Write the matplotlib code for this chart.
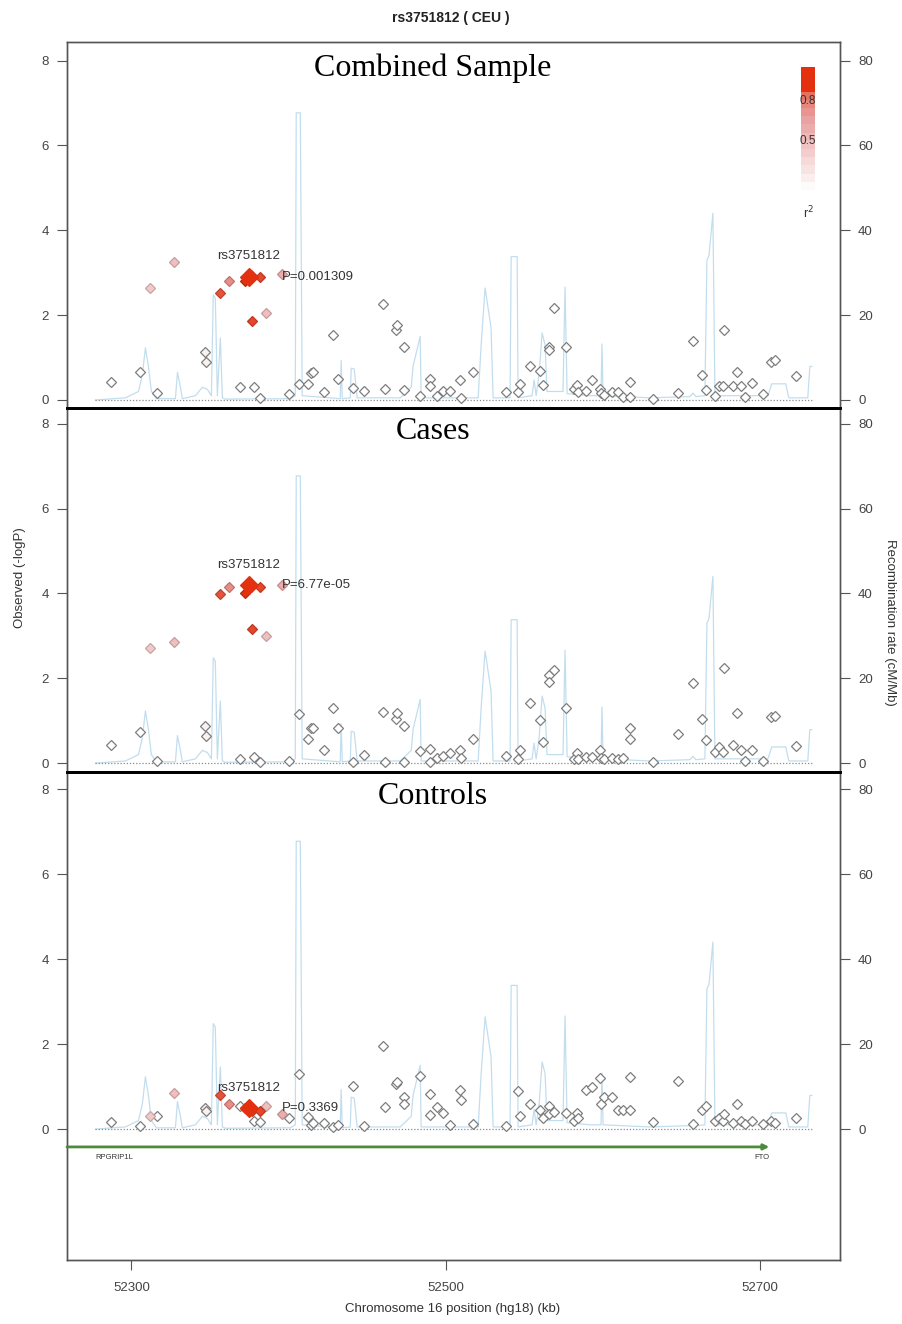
import matplotlib
matplotlib.use('Agg')
import matplotlib.pyplot as plt
from matplotlib.colors import LinearSegmentedColormap
import numpy as np

plt.rcParams['font.family'] = ['Liberation Sans', 'DejaVu Sans']

# SNP positions (kb, hg18) - same SNPs in every panel
snp_pos = [52287.1, 52305.7, 52311.6, 52316.2, 52326.9, 52347.1, 52347.3, 52356.6, 52361.9, 52369.3,
           52372.2, 52374.7, 52376.0, 52376.8, 52377.8, 52381.6, 52382.0, 52385.7, 52395.8, 52400.5,
           52406.8, 52412.4, 52414.5, 52415.7, 52422.7, 52428.6, 52431.4, 52441.2, 52448.2, 52460.1,
           52461.5, 52468.2, 52468.8, 52473.2, 52473.6, 52483.8, 52489.8, 52490.1, 52494.6, 52498.6,
           52502.9, 52508.9, 52509.9, 52517.7, 52538.5, 52546.3, 52547.4, 52553.7, 52560.1, 52562.2,
           52565.8, 52566.0, 52569.0, 52576.6, 52581.7, 52583.4, 52584.5, 52589.3, 52593.4, 52598.3,
           52598.9, 52600.8, 52605.7, 52609.5, 52613.1, 52617.3, 52617.5, 52632.1, 52648.0, 52657.6,
           52662.9, 52665.7, 52671.4, 52674.1, 52676.7, 52677.1, 52683.0, 52685.2, 52687.7, 52690.5,
           52694.7, 52701.7, 52707.4, 52709.5, 52723.3]

logp_combined = [0.43, 0.65, 2.64, 0.17, 3.25, 1.13, 0.89, 2.52, 2.81, 0.30,
                 2.80, 2.91, 2.95, 1.85, 0.30, 2.91, 0.04, 2.05, 2.97, 0.13,
                 0.37, 0.37, 0.63, 0.65, 0.18, 1.52, 0.50, 0.28, 0.21, 2.27,
                 0.26, 1.64, 1.76, 1.24, 0.24, 0.09, 0.50, 0.34, 0.09, 0.21,
                 0.21, 0.47, 0.04, 0.65, 0.18, 0.18, 0.38, 0.81, 0.69, 0.35,
                 1.24, 1.17, 2.17, 1.26, 0.26, 0.35, 0.18, 0.22, 0.46, 0.26,
                 0.16, 0.12, 0.18, 0.18, 0.08, 0.42, 0.06, 0.02, 0.16, 1.39,
                 0.59, 0.24, 0.10, 0.34, 0.34, 1.65, 0.34, 0.65, 0.34, 0.06,
                 0.39, 0.13, 0.89, 0.94, 0.57]

logp_cases = [0.42, 0.74, 2.71, 0.06, 2.86, 0.88, 0.65, 3.99, 4.14, 0.09,
              4.00, 4.20, 4.15, 3.16, 0.15, 4.15, 0.03, 3.00, 4.19, 0.06,
              1.16, 0.57, 0.82, 0.82, 0.32, 1.29, 0.82, 0.03, 0.19, 1.20,
              0.03, 1.04, 1.17, 0.88, 0.03, 0.29, 0.34, 0.03, 0.11, 0.17,
              0.23, 0.31, 0.13, 0.57, 0.17, 0.09, 0.32, 1.42, 1.01, 0.50,
              2.08, 1.90, 2.20, 1.29, 0.10, 0.23, 0.10, 0.15, 0.15, 0.31,
              0.13, 0.09, 0.11, 0.09, 0.11, 0.83, 0.56, 0.03, 0.68, 1.88,
              1.04, 0.54, 0.27, 0.37, 0.27, 2.24, 0.43, 1.17, 0.32, 0.06,
              0.32, 0.06, 1.09, 1.11, 0.40]

logp_controls = [0.17, 0.07, 0.31, 0.31, 0.85, 0.49, 0.42, 0.80, 0.59, 0.55,
                 0.50, 0.49, 0.47, 0.43, 0.20, 0.43, 0.16, 0.54, 0.35, 0.25,
                 1.30, 0.29, 0.09, 0.15, 0.15, 0.05, 0.10, 1.01, 0.07, 1.95,
                 0.53, 1.05, 1.10, 0.76, 0.60, 1.25, 0.83, 0.33, 0.52, 0.38,
                 0.10, 0.92, 0.68, 0.12, 0.08, 0.90, 0.30, 0.60, 0.45, 0.25,
                 0.55, 0.35, 0.40, 0.38, 0.20, 0.38, 0.25, 0.92, 1.00, 1.20,
                 0.60, 0.75, 0.75, 0.45, 0.45, 1.22, 0.45, 0.17, 1.12, 0.12,
                 0.45, 0.55, 0.20, 0.25, 0.20, 0.35, 0.15, 0.60, 0.20, 0.12,
                 0.20, 0.12, 0.20, 0.15, 0.25]

snp_r2 = [0, 0, 0.30, 0, 0.35, 0.08, 0.08, 0.85, 0.60, 0,
          1.0, 1.0, 0.95, 0.90, 0, 0.90, 0, 0.35, 0.45, 0,
          0, 0, 0, 0, 0, 0, 0, 0, 0, 0,
          0, 0, 0, 0, 0, 0, 0, 0, 0, 0,
          0, 0, 0, 0, 0, 0, 0, 0, 0, 0,
          0, 0, 0, 0, 0, 0, 0, 0, 0, 0,
          0, 0, 0, 0, 0, 0, 0, 0, 0, 0,
          0, 0, 0, 0, 0, 0, 0, 0, 0, 0,
          0, 0, 0, 0, 0]

index_snp = 'rs3751812'
index_i = 11
panel_titles = ['Combined Sample', 'Cases', 'Controls']
panel_logp = [logp_combined, logp_cases, logp_controls]
panel_pvals = ['P=0.001309', 'P=6.77e-05', 'P=0.3369']

# recombination rate (cM/Mb)
recomb_pos = [52277.1, 52296.2, 52304.5, 52307.0, 52308.9, 52310.8, 52312.7, 52315.9, 52328.0, 52329.3,
              52331.2, 52332.4, 52340.7, 52345.2, 52348.3, 52350.9, 52352.1, 52353.4, 52354.7, 52356.6,
              52357.9, 52359.8, 52401.1, 52404.3, 52404.9, 52407.5, 52408.7, 52432.9, 52433.5, 52434.2,
              52439.3, 52439.9, 52441.8, 52443.7, 52471.1, 52478.1, 52479.3, 52483.8, 52484.4, 52520.7,
              52522.6, 52525.1, 52527.7, 52528.9, 52530.2, 52541.0, 52541.7, 52545.5, 52546.1, 52555.0,
              52556.3, 52557.6, 52559.5, 52561.4, 52563.3, 52564.5, 52574.7, 52576.0, 52577.3, 52591.9,
              52598.9, 52599.5, 52600.2, 52630.0, 52655.5, 52657.4, 52659.3, 52665.0, 52666.3, 52667.6,
              52670.1, 52671.4, 52705.1, 52707.6, 52716.5, 52718.4, 52730.5, 52731.8, 52733.1]
recomb_rate = [0.0, 0.5, 2.0, 6.0, 12.3, 8.0, 2.0, 0.3, 0.3, 6.5,
               3.0, 0.3, 1.0, 3.0, 2.5, 1.0, 24.8, 24.0, 1.0, 14.6,
               0.5, 0.2, 0.3, 1.0, 67.7, 67.7, 1.0, 0.3, 9.3, 0.3,
               0.5, 7.5, 7.3, 0.5, 0.5, 3.0, 8.0, 15.0, 0.5, 0.5,
               13.0, 26.4, 20.0, 17.0, 0.5, 0.5, 33.8, 33.8, 0.5, 1.0,
               4.7, 1.0, 6.0, 15.8, 13.0, 2.0, 2.0, 26.6, 1.5, 1.0,
               1.0, 13.2, 1.0, 0.5, 0.8, 1.6, 0.8, 1.0, 33.0, 34.0,
               44.0, 1.0, 1.0, 3.8, 3.8, 0.5, 0.5, 7.9, 7.9]

gene_start, gene_end = 52259, 52706
gene_labels = [('RPGRIP1L', 52277), ('FTO', 52701)]

ld_cmap = LinearSegmentedColormap.from_list('ld', [(0, '#ffffff'), (0.5, '#eaa4a4'), (1, '#e3300e')])

W, H = 902, 1324
fig = plt.figure(figsize=(W / 100, H / 100), dpi=100)
left, width = 67 / W, 773 / W
boxes = [(42, 408), (408, 772), (772, 1260)]
ylims = [(-0.19, 8.44), (-0.21, 8.37), (-3.08, 8.4)]
frame_col = '#555555'
tick_col = '#444444'

for k in range(3):
    top, bot = boxes[k]
    ax = fig.add_axes([left, 1 - bot / H, width, (bot - top) / H])
    ax2 = ax.twinx()
    ax.set_zorder(ax2.get_zorder() + 1)
    ax.patch.set_visible(False)

    ax2.plot(recomb_pos, recomb_rate, color='#c2deee', lw=0.9)
    ax.plot([recomb_pos[0], recomb_pos[-1]], [0, 0], ls=(0, (1, 1.5)), color='#8a8a8a', lw=0.9)

    logp = panel_logp[k]
    order = sorted(range(len(snp_pos)), key=lambda i: (i == index_i, snp_r2[i]))
    for i in order:
        r2 = snp_r2[i]
        fc = ld_cmap(r2)
        if r2 < 0.1:
            ec = '#7d7d7d'
            ms = 4.9
        else:
            ec = tuple(c * 0.82 for c in fc[:3])
            ms = 5.6
        if i == index_i:
            ms = 9.5
            ec = fc
        ax.plot(snp_pos[i], logp[i], marker='D', ms=ms, mfc=fc, mec=ec, mew=0.9, ls='none')

    ax.text(snp_pos[index_i], logp[index_i] + 0.48, index_snp, ha='center', va='center',
            fontsize=9.5, color='#333333')
    ax.text(snp_pos[index_i] + 21, logp[index_i], panel_pvals[k], ha='left', va='center',
            fontsize=9.5, color='#333333')
    ax.text(52492, 7.82, panel_titles[k], ha='center', va='center', fontsize=23,
            family='Liberation Serif', color='black')

    ax.set_xlim(52259, 52751)
    ax.set_ylim(*ylims[k])
    ax2.set_ylim(ylims[k][0] * 10, ylims[k][1] * 10)
    ax.set_yticks([0, 2, 4, 6, 8])
    ax2.set_yticks([0, 20, 40, 60, 80])
    ax.tick_params(axis='y', direction='out', length=7, width=0.8, color=frame_col,
                   labelcolor=tick_col, labelsize=9.5, pad=6)
    ax2.tick_params(axis='y', direction='out', length=7, width=0.8, color=frame_col,
                    labelcolor=tick_col, labelsize=9.5, pad=6)

    for a in (ax, ax2):
        for s in a.spines.values():
            s.set_color(frame_col)
            s.set_linewidth(1.0)
        if k < 2:
            a.spines['bottom'].set_visible(False)
        if k > 0:
            a.spines['top'].set_color('black')
            a.spines['top'].set_linewidth(2.0)

    if k < 2:
        ax.tick_params(axis='x', bottom=False, labelbottom=False)
    else:
        ax.set_xticks([52300, 52500, 52700])
        ax.tick_params(axis='x', direction='out', length=7, width=0.8, color=frame_col,
                       labelcolor=tick_col, labelsize=9.5, pad=9)
        ax.annotate('', xy=(gene_end, -0.42), xytext=(gene_start, -0.42),
                    arrowprops=dict(arrowstyle='-|>', color='#4b8b3b', lw=2, mutation_scale=8,
                                    shrinkA=0, shrinkB=0))
        ax.text(gene_labels[0][1], -0.66, gene_labels[0][0], ha='left', va='center',
                fontsize=5.5, color='#333333')
        ax.text(gene_labels[1][1], -0.66, gene_labels[1][0], ha='center', va='center',
                fontsize=5.5, color='#333333')

    if k == 0:
        cax = fig.add_axes([801 / W, 1 - 190 / H, 14 / W, 123 / H])
        levels = [0.03, 0.09, 0.15, 0.21, 0.27, 0.33, 0.39, 0.45, 0.51, 0.57, 0.63, 0.72, 1.0, 1.0, 1.0]
        cax.imshow(np.array(levels).reshape(-1, 1), cmap=ld_cmap, vmin=0, vmax=1,
                   origin='lower', aspect='auto', extent=[0, 1, 0, 1])
        cax.axis('off')
        cax.text(0.5, 0.72, '0.8', ha='center', va='center', fontsize=8.5, color='#333333',
                 transform=cax.transAxes)
        cax.text(0.5, 0.40, '0.5', ha='center', va='center', fontsize=8.5, color='#333333',
                 transform=cax.transAxes)
        cax.text(0.5, -0.19, 'r$^2$', ha='center', va='center', fontsize=9, color='#333333',
                 transform=cax.transAxes)

fig.text(451 / W, 1 - 18 / H, 'rs3751812 ( CEU )', ha='center', va='center',
         fontsize=10, fontweight='bold', color='#222222')
fig.text(20 / W, 1 - 578 / H, 'Observed (-logP)', ha='center', va='center', rotation=90,
         fontsize=9.5, color='#333333')
fig.text(890 / W, 1 - 622 / H, 'Recombination rate (cM/Mb)', ha='center', va='center',
         rotation=270, fontsize=9.5, color='#333333')
fig.text(453 / W, 1 - 1309 / H, 'Chromosome 16 position (hg18) (kb)', ha='center', va='center',
         fontsize=9.5, color='#333333')

fig.savefig('out.png', dpi=100)
